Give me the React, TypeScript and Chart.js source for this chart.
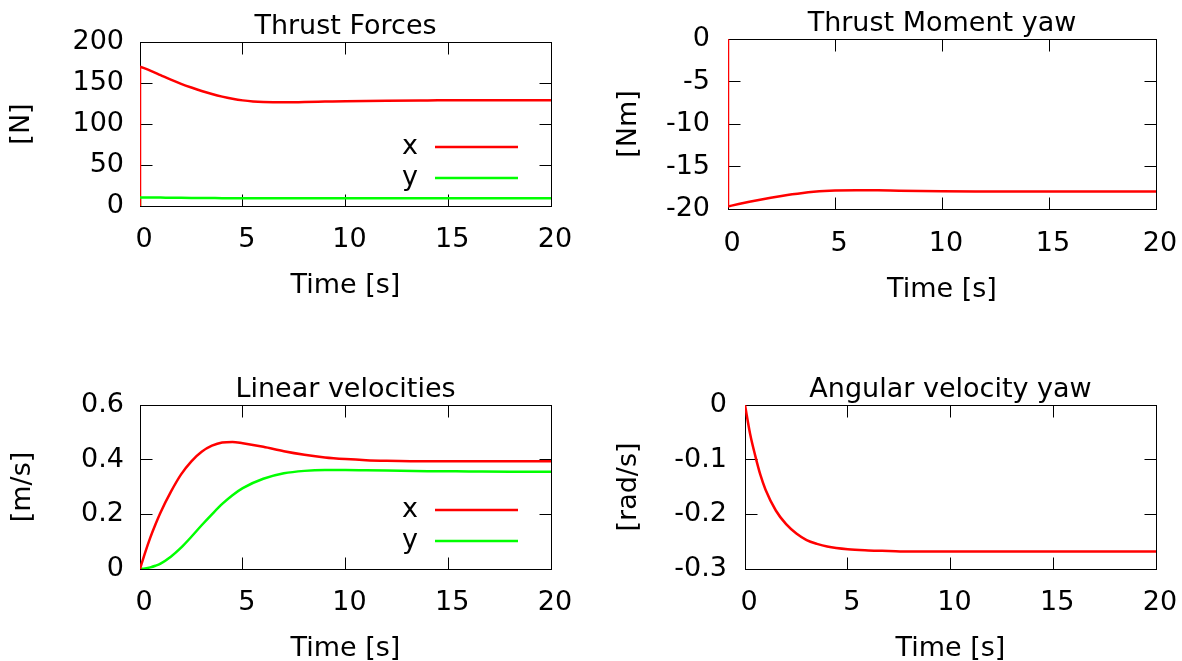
import React, { useEffect, useRef } from "react";
import { Chart, registerables } from "chart.js";

Chart.register(...registerables);

// ---------- data ----------
const timeTicks = [0, 5, 10, 15, 20];

// Thrust forces [N]
const thrustTime = [0, 0.5, 1, 1.5, 2, 2.5, 3, 3.5, 4, 4.5, 5, 5.5, 6, 7, 8, 9, 10, 11, 12, 14, 16, 18, 20];
const thrustX = [170, 165, 159.5, 154, 149, 144.5, 140.3, 136.6, 133.4, 130.8, 128.8, 127.5, 126.8, 126.4, 126.8, 127.3, 127.8, 128.2, 128.5, 128.8, 129, 129, 129];
const thrustY = [10.5, 10.4, 10.3, 10.1, 10, 9.9, 9.8, 9.7, 9.6, 9.55, 9.5, 9.47, 9.45, 9.4, 9.4, 9.35, 9.35, 9.3, 9.3, 9.3, 9.3, 9.3, 9.3];
const thrustJumpTime = [0, 0];
const thrustXJump = [0, 170];
const thrustYJump = [0, 10.5];
const thrustTicks = [0, 50, 100, 150, 200];

// Thrust moment yaw [Nm]
const momentTime = [0, 0.5, 1, 1.5, 2, 2.5, 3, 3.5, 4, 4.5, 5, 6, 7, 8, 9, 10, 12, 14, 16, 18, 20];
const momentYaw = [-19.7, -19.42, -19.15, -18.9, -18.67, -18.46, -18.27, -18.11, -17.98, -17.88, -17.82, -17.78, -17.8, -17.85, -17.89, -17.92, -17.94, -17.95, -17.95, -17.95, -17.95];
const momentJumpTime = [0, 0];
const momentJump = [0, -19.7];
const momentTicks = [0, -5, -10, -15, -20];

// Linear velocities [m/s]
const velTime = [0, 0.25, 0.5, 0.75, 1, 1.5, 2, 2.5, 3, 3.5, 4, 4.5, 5, 6, 7, 8, 9, 10, 11, 12, 14, 16, 18, 20];
const velX = [0, 0.06, 0.115, 0.163, 0.207, 0.282, 0.346, 0.394, 0.429, 0.451, 0.463, 0.465, 0.46, 0.447, 0.431, 0.418, 0.408, 0.402, 0.398, 0.396, 0.394, 0.394, 0.394, 0.394];
const velY = [0, 0.002, 0.006, 0.012, 0.02, 0.045, 0.078, 0.118, 0.16, 0.2, 0.238, 0.27, 0.296, 0.33, 0.35, 0.359, 0.362, 0.362, 0.361, 0.36, 0.358, 0.357, 0.356, 0.356];
const velTicks = [0, 0.2, 0.4, 0.6];

// Angular velocity yaw [rad/s]
const angTime = [0, 0.25, 0.5, 0.75, 1, 1.5, 2, 2.5, 3, 3.5, 4, 5, 6, 7, 8, 10, 12, 14, 16, 18, 20];
const angYaw = [0, -0.053, -0.093, -0.128, -0.155, -0.193, -0.218, -0.235, -0.247, -0.254, -0.259, -0.264, -0.266, -0.267, -0.268, -0.268, -0.268, -0.268, -0.268, -0.268, -0.268];
const angTicks = [0, -0.1, -0.2, -0.3];

// ---------- helpers ----------
const FONT = "'DejaVu Sans', 'Liberation Sans', sans-serif";
const FS = 27;
const RED = "#ff0000";
const GREEN = "#00ff00";

const pts = (t: number[], v: number[]) => t.map((x, i) => ({ x, y: v[i] }));

const frameKey = {
  id: "gnuplotFrame",
  beforeDatasetsDraw(chart: any) {
    const { ctx, chartArea: a, scales } = chart;
    const f = (v: number) => Math.floor(v) + 0.5;
    const L = f(a.left);
    const R = f(a.right);
    const T = f(a.top);
    const B = f(a.bottom);
    const tl = 12;
    ctx.save();
    ctx.strokeStyle = "#000";
    ctx.lineWidth = 1;
    ctx.strokeRect(L, T, R - L, B - T);
    ctx.beginPath();
    scales.x.ticks.forEach((t: any) => {
      const px = f(scales.x.getPixelForValue(t.value));
      ctx.moveTo(px, B);
      ctx.lineTo(px, B - tl);
      ctx.moveTo(px, T);
      ctx.lineTo(px, T + tl);
    });
    scales.y.ticks.forEach((t: any) => {
      const py = f(scales.y.getPixelForValue(t.value));
      ctx.moveTo(L, py);
      ctx.lineTo(L + tl, py);
      ctx.moveTo(R, py);
      ctx.lineTo(R - tl, py);
    });
    ctx.stroke();
    ctx.restore();
  },
  afterDatasetsDraw(chart: any, _args: any, opts: any) {
    if (!opts || !opts.key) return;
    const { ctx, chartArea: a } = chart;
    const items = chart.data.datasets.filter((d: any) => d.label);
    ctx.save();
    ctx.font = `${FS}px ${FONT}`;
    ctx.textAlign = "right";
    ctx.textBaseline = "middle";
    items.forEach((d: any, i: number) => {
      const y = a.top + opts.rows[i];
      ctx.fillStyle = "#000";
      ctx.fillText(d.label, a.left + 278, y);
      ctx.strokeStyle = d.borderColor;
      ctx.lineWidth = 2.5;
      ctx.beginPath();
      ctx.moveTo(a.left + 295, y);
      ctx.lineTo(a.left + 378, y);
      ctx.stroke();
    });
    ctx.restore();
  },
};

type Panel = {
  left: number;
  top: number;
  width: number;
  height: number;
  title: string;
  titlePad: { top: number; bottom: number };
  yLabel: string;
  yTitlePad: number;
  yWidth: number;
  yTickPad: number;
  xHeight: number;
  xTickPad: number;
  xTitlePad: number;
  padRight: number;
  yTicks: number[];
  datasets: any[];
  key: boolean;
};

const lineDs = (label: string, color: string, t: number[], v: number[]) => ({
  label,
  data: pts(t, v),
  borderColor: color,
  backgroundColor: color,
  borderWidth: 2.5,
  pointRadius: 0,
  cubicInterpolationMode: "monotone",
  fill: false,
});

const panels: Panel[] = [
  {
    left: 0, top: 0, width: 591, height: 330,
    title: "Thrust Forces", titlePad: { top: 13, bottom: 2 },
    yLabel: "[N]", yTitlePad: 8, yWidth: 140, yTickPad: 16,
    xHeight: 124, xTickPad: 18, xTitlePad: 31, padRight: 40,
    yTicks: thrustTicks,
    datasets: [
      lineDs("x", RED, thrustTime, thrustX),
      lineDs("y", GREEN, thrustTime, thrustY),
      lineDs("", RED, thrustJumpTime, thrustXJump),
      lineDs("", GREEN, thrustJumpTime, thrustYJump),
    ],
    key: true,
  },
  {
    left: 591, top: 0, width: 591, height: 330,
    title: "Thrust Moment yaw", titlePad: { top: 10, bottom: 2 },
    yLabel: "[Nm]", yTitlePad: 24, yWidth: 137, yTickPad: 18,
    xHeight: 121, xTickPad: 19, xTitlePad: 27, padRight: 26,
    yTicks: momentTicks,
    datasets: [
      lineDs("", RED, momentTime, momentYaw),
      lineDs("", RED, momentJumpTime, momentJump),
    ],
    key: false,
  },
  {
    left: 0, top: 360, width: 591, height: 301,
    title: "Linear velocities", titlePad: { top: 16, bottom: 2 },
    yLabel: "[m/s]", yTitlePad: 9, yWidth: 140, yTickPad: 16,
    xHeight: 92, xTickPad: 18, xTitlePad: -1, padRight: 40,
    yTicks: velTicks,
    datasets: [
      lineDs("x", RED, velTime, velX),
      lineDs("y", GREEN, velTime, velY),
    ],
    key: true,
  },
  {
    left: 591, top: 360, width: 591, height: 301,
    title: "Angular velocity yaw", titlePad: { top: 16, bottom: 2 },
    yLabel: "[rad/s]", yTitlePad: 24, yWidth: 154, yTickPad: 18,
    xHeight: 92, xTickPad: 18, xTitlePad: -1, padRight: 26,
    yTicks: angTicks,
    datasets: [lineDs("", RED, angTime, angYaw)],
    key: false,
  },
];

function PanelChart({ p }: { p: Panel }) {
  const ref = useRef<HTMLCanvasElement | null>(null);
  useEffect(() => {
    if (!ref.current) return;
    const yMin = Math.min(...p.yTicks);
    const yMax = Math.max(...p.yTicks);
    const chart = new Chart(ref.current, {
      type: "line",
      data: { datasets: p.datasets },
      plugins: [frameKey],
      options: {
        responsive: false,
        animation: false,
        devicePixelRatio: 1,
        layout: { padding: { left: 0, right: p.padRight, top: 0, bottom: 0 } },
        plugins: {
          legend: { display: false },
          tooltip: { enabled: false },
          title: {
            display: true,
            text: p.title,
            color: "#000",
            fullSize: false,
            font: { family: FONT, size: FS, weight: "normal", lineHeight: 1 },
            padding: p.titlePad,
          },
          gnuplotFrame: { key: p.key, rows: [105, 136] },
        } as any,
        scales: {
          x: {
            type: "linear",
            min: 0,
            max: 20,
            afterBuildTicks: (s: any) => {
              s.ticks = timeTicks.map((v) => ({ value: v }));
            },
            afterFit: (s: any) => {
              s.height = p.xHeight;
              s.paddingLeft = 0;
              s.paddingRight = 0;
            },
            grid: { display: false, drawTicks: false },
            border: { display: false },
            ticks: {
              color: "#000",
              font: { family: FONT, size: FS },
              padding: p.xTickPad,
              labelOffset: 4,
              maxRotation: 0,
              autoSkip: false,
              callback: (v: any) => String(v),
            },
            title: {
              display: true,
              text: "Time [s]",
              color: "#000",
              font: { family: FONT, size: FS, lineHeight: 1 },
              padding: { top: 0, bottom: p.xTitlePad },
            },
          },
          y: {
            type: "linear",
            min: yMin,
            max: yMax,
            afterBuildTicks: (s: any) => {
              s.ticks = p.yTicks.map((v) => ({ value: v }));
            },
            afterFit: (s: any) => {
              s.width = p.yWidth;
              s.paddingTop = 0;
              s.paddingBottom = 0;
            },
            grid: { display: false, drawTicks: false },
            border: { display: false },
            ticks: {
              color: "#000",
              font: { family: FONT, size: FS },
              padding: p.yTickPad,
              autoSkip: false,
              callback: (v: any) => String(v),
            },
            title: {
              display: true,
              text: p.yLabel,
              color: "#000",
              font: { family: FONT, size: FS, lineHeight: 1 },
              padding: { top: p.yTitlePad, bottom: 0 },
            },
          },
        },
      } as any,
    });
    return () => chart.destroy();
  }, [p]);
  return (
    <canvas
      ref={ref}
      width={p.width}
      height={p.height}
      style={{ position: "absolute", left: p.left, top: p.top, width: p.width, height: p.height }}
    />
  );
}

export default function App() {
  return (
    <div style={{ position: "absolute", left: 0, top: 0, width: 1182, height: 661, background: "#fff" }}>
      {panels.map((p, i) => (
        <PanelChart key={i} p={p} />
      ))}
    </div>
  );
}
